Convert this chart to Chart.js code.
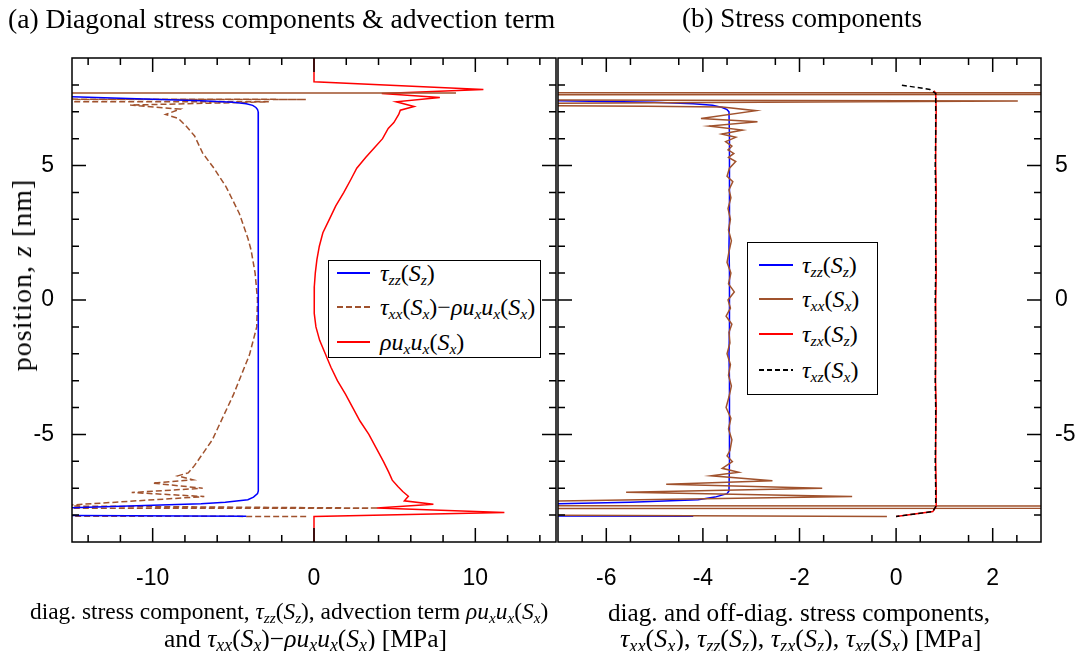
<!DOCTYPE html>
<html>
<head>
<meta charset="utf-8">
<script src="https://cdn.jsdelivr.net/npm/chart.js"></script>
<style>
  body { margin: 0; background: #fff; }
  #wrap { position: relative; width: 1075px; height: 651px; background: #fff; overflow: hidden; }
  canvas { position: absolute; top: 0; }
  .serif { position: absolute; font-family: 'Liberation Serif', 'Times New Roman', serif; color: #000; white-space: nowrap; line-height: 1; }
  .serif sub { font-size: 65%; vertical-align: -0.25em; line-height: 0; }
  .wide sub { font-size: 70%; }
  .box { position: absolute; border: 1.5px solid #000; background: #fff; box-sizing: border-box; }
  .sample { position: absolute; height: 2px; }
</style>
</head>
<body>
<div id="wrap">
  <canvas id="left" width="560" height="651" style="left:0;width:560px;height:651px"></canvas>
  <canvas id="right" width="535" height="651" style="left:540px;width:535px;height:651px"></canvas>

  <div class="serif" style="left:8px;top:5px;font-size:27.6px">(a) Diagonal stress components &amp; advection term</div>
  <div class="serif" style="left:682px;top:5px;font-size:27px">(b) Stress components</div>

  <div class="serif" style="left:22px;top:275px;font-size:28px;letter-spacing:1px;transform:translate(-50%,-50%) rotate(-90deg)">position, <i>z</i> [nm]</div>

  <div class="serif" style="left:30px;top:600px;font-size:23.4px">diag. stress component, <i>τ</i><sub><i>zz</i></sub>(<i>S</i><sub><i>z</i></sub>), advection term <i>ρu</i><sub><i>x</i></sub><i>u</i><sub><i>x</i></sub>(<i>S</i><sub><i>x</i></sub>)</div>
  <div class="serif wide" style="left:164px;top:626px;font-size:25.5px">and <i>τ</i><sub><i>xx</i></sub>(<i>S</i><sub><i>x</i></sub>)−<i>ρu</i><sub><i>x</i></sub><i>u</i><sub><i>x</i></sub>(<i>S</i><sub><i>x</i></sub>) [MPa]</div>
  <div class="serif" style="left:608px;top:600px;font-size:25.2px">diag. and off-diag. stress components,</div>
  <div class="serif wide" style="left:620px;top:626px;font-size:26px"><i>τ</i><sub><i>xx</i></sub>(<i>S</i><sub><i>x</i></sub>), <i>τ</i><sub><i>zz</i></sub>(<i>S</i><sub><i>z</i></sub>), <i>τ</i><sub><i>zx</i></sub>(<i>S</i><sub><i>z</i></sub>), <i>τ</i><sub><i>xz</i></sub>(<i>S</i><sub><i>x</i></sub>) [MPa]</div>

  <div class="box" style="left:328px;top:260px;width:213px;height:98px"></div>
  <div class="sample" style="left:337px;top:272px;width:33px;background:#0000ff"></div>
  <div class="sample" style="left:337px;top:306px;width:33px;background:repeating-linear-gradient(to right,#a0522d 0 6px,transparent 6px 9px)"></div>
  <div class="sample" style="left:337px;top:341px;width:33px;background:#ff0000"></div>
  <div class="serif" style="left:380px;top:261px;font-size:24px"><i>τ</i><sub><i>zz</i></sub>(<i>S</i><sub><i>z</i></sub>)</div>
  <div class="serif" style="left:380px;top:295px;font-size:24px"><i>τ</i><sub><i>xx</i></sub>(<i>S</i><sub><i>x</i></sub>)−<i>ρu</i><sub><i>x</i></sub><i>u</i><sub><i>x</i></sub>(<i>S</i><sub><i>x</i></sub>)</div>
  <div class="serif" style="left:380px;top:330px;font-size:24px"><i>ρu</i><sub><i>x</i></sub><i>u</i><sub><i>x</i></sub>(<i>S</i><sub><i>x</i></sub>)</div>

  <div class="box" style="left:747px;top:242px;width:131px;height:153px"></div>
  <div class="sample" style="left:759px;top:264px;width:34px;background:#0000ff"></div>
  <div class="sample" style="left:759px;top:298px;width:34px;background:#a0522d"></div>
  <div class="sample" style="left:759px;top:333px;width:34px;background:#ff0000"></div>
  <div class="sample" style="left:759px;top:369px;width:34px;background:repeating-linear-gradient(to right,#000 0 5px,transparent 5px 8px)"></div>
  <div class="serif" style="left:802px;top:253px;font-size:24px"><i>τ</i><sub><i>zz</i></sub>(<i>S</i><sub><i>z</i></sub>)</div>
  <div class="serif" style="left:802px;top:287px;font-size:24px"><i>τ</i><sub><i>xx</i></sub>(<i>S</i><sub><i>x</i></sub>)</div>
  <div class="serif" style="left:802px;top:322px;font-size:24px"><i>τ</i><sub><i>zx</i></sub>(<i>S</i><sub><i>z</i></sub>)</div>
  <div class="serif" style="left:802px;top:358px;font-size:24px"><i>τ</i><sub><i>xz</i></sub>(<i>S</i><sub><i>x</i></sub>)</div>
</div>

<script>
// axis ticks
const zMajor = [-5, 0, 5];
const zMinor = [-8, -7, -6, -4, -3, -2, -1, 1, 2, 3, 4, 6, 7, 8];
const xMajorA = [-10, 0, 10];
const xMinorA = [-14, -12, -8, -6, -4, -2, 2, 4, 6, 8, 12, 14];
const xMajorB = [-6, -4, -2, 0, 2];
const xMinorB = [-6.5, -5.5, -4.5, -3.5, -2.5, -1.5, -0.5, 0.5, 1.5, 2.5];

// tau_zz(S_z), shown in both panels
const tzzZ = [7.65, 7.56, 7.41, 7.35, 7.3, 7.24, 7.16, 7.08, 7.0, 6, 5, 4, 3, 2, 1, 0, -1, -2, -3, -4, -5, -6, -7.1, -7.2, -7.33, -7.43, -7.52, -7.58, -7.73, -7.9, -8.04];
const tzzV = [-40, -15, -7, -5, -4.2, -3.8, -3.6, -3.5, -3.46, -3.45, -3.45, -3.45, -3.45, -3.46, -3.45, -3.45, -3.45, -3.46, -3.45, -3.45, -3.45, -3.45, -3.46, -3.5, -3.75, -4.1, -5.5, -7, -15, -60, -4.2];

// rho u_x u_x(S_x)
const ruuZ = [9.2, 8.12, 7.83, 7.68, 7.53, 7.37, 7.2, 7.06, 6.9, 6.6, 6.38, 6.0, 5.7, 5.3, 4.9, 4.5, 4.0, 3.5, 3.0, 2.5, 2.0, 1.5, 1.0, 0.5, 0, -0.5, -1, -1.5, -2, -2.5, -3, -3.5, -4, -4.5, -5, -5.5, -6, -6.4, -6.7, -6.94, -7.12, -7.3, -7.47, -7.6, -7.74, -7.9, -8.05, -9.2];
const ruuV = [0, 0, 10.5, 4.2, 7.8, 5.1, 6.2, 5.35, 5.25, 4.95, 4.6, 4.25, 3.8, 3.2, 2.65, 2.3, 1.85, 1.35, 0.95, 0.55, 0.33, 0.18, 0.08, 0.02, 0, 0.03, 0.12, 0.35, 0.7, 1.05, 1.45, 1.95, 2.4, 2.85, 3.4, 3.85, 4.3, 4.63, 4.85, 5.2, 5.5, 5.85, 5.6, 7.4, 3.9, 11.8, 0, 0];

// tau_xx(S_x) - rho u_x u_x(S_x)
const difZ = [7.72, 7.70, 7.68, 7.46, 7.42, 7.37, 7.25, 7.1, 6.9, 6.75, 6.45, 6.1, 5.46, 4.9, 4.21, 3.22, 2.3, 1.86, 1.0, 0, -1.0, -2.04, -3.53, -4.9, -5.2, -6.15, -6.43, -6.54, -6.69, -6.81, -7.0, -7.16, -7.31, -7.66, -7.74, -7.84, -8.05];
const difV = [-300, 8.8, -300, -0.5, -300, -2.8, -11.4, -8.3, -9.2, -8.4, -7.9, -7.4, -6.9, -6.2, -5.45, -4.63, -4.1, -3.9, -3.65, -3.5, -3.55, -4.0, -5.0, -6.07, -6.3, -7.4, -7.8, -8.45, -7.5, -10, -6.9, -11.3, -6.8, -16, 4.0, -300, -0.3];

// tau_xx(S_x)
const txxZ = [7.72, 7.70, 7.58, 7.46, 7.40, 7.28, 7.21, 7.18, 7.04, 6.75, 6.63, 6.47, 6.32, 6.17, 6.05, 5.89, 5.72, 5.58, 5.45, 5.3, 5.15, 4.9, 4.6, 4.4, 4.1, 3.8, 3.4, 3.0, 2.6, 2.2, 1.8, 1.4, 1.0, 0.6, 0.3, 0.0, -0.3, -0.6, -0.9, -1.2, -1.6, -2.0, -2.4, -2.8, -3.2, -3.6, -4.0, -4.4, -4.8, -5.2, -5.6, -5.8, -6.01, -6.26, -6.41, -6.54, -6.72, -6.85, -7.0, -7.15, -7.31, -7.49, -7.62, -7.70, -7.80, -8.05];
const txxV = [-40, 40, -40, -12, 2.52, -12, -5.17, -3.6, -2.9, -4.04, -2.87, -3.87, -3.18, -3.61, -3.32, -3.53, -3.4, -3.48, -3.36, -3.47, -3.32, -3.45, -3.5, -3.38, -3.46, -3.42, -3.48, -3.43, -3.47, -3.41, -3.46, -3.5, -3.42, -3.47, -3.35, -3.48, -3.43, -3.52, -3.4, -3.46, -3.44, -3.5, -3.43, -3.47, -3.41, -3.46, -3.52, -3.42, -3.47, -3.4, -3.44, -3.5, -3.39, -3.6, -3.26, -3.83, -2.56, -4.76, -1.53, -5.59, -0.91, -7.5, -40, 40, -40, -0.19];

// tau_zx(S_z)
const tzxZ = [7.78, 7.7, 7, 6, 5, 4, 3, 2, 1, 0, -1, -2, -3, -4, -5, -6, -7, -7.68, -7.87, -8.05];
const tzxV = [0.78, 0.82, 0.83, 0.82, 0.82, 0.83, 0.82, 0.82, 0.83, 0.82, 0.82, 0.81, 0.82, 0.83, 0.82, 0.82, 0.83, 0.83, 0.76, 0.0];

// tau_xz(S_x)
const txzZ = [7.99, 7.83, 7.68, 7, 6, 5, 4, 3, 2, 1, 0, -1, -2, -3, -4, -5, -6, -7, -7.68, -7.87, -8.05];
const txzV = [0.12, 0.7, 0.82, 0.82, 0.82, 0.81, 0.82, 0.82, 0.82, 0.82, 0.81, 0.82, 0.82, 0.81, 0.82, 0.82, 0.81, 0.82, 0.82, 0.76, 0.0];

const pts = (zs, vs) => zs.map((z, i) => ({ x: vs[i], y: z }));

// frame and inward ticks on all four sides
const frameTicks = {
  id: 'frameTicks',
  afterDatasetsDraw(chart, args, o) {
    const { ctx, chartArea: a, scales: { x, y } } = chart;
    ctx.save();
    ctx.strokeStyle = '#000';
    ctx.lineWidth = 1.5;
    ctx.beginPath();
    const xt = (vals, len) => vals.forEach(v => {
      const p = x.getPixelForValue(v);
      ctx.moveTo(p, a.bottom); ctx.lineTo(p, a.bottom - len);
      ctx.moveTo(p, a.top); ctx.lineTo(p, a.top + len);
    });
    const yt = (vals, len) => vals.forEach(v => {
      const p = y.getPixelForValue(v);
      ctx.moveTo(a.left, p); ctx.lineTo(a.left + len, p);
      ctx.moveTo(a.right, p); ctx.lineTo(a.right - len, p);
    });
    xt(o.xMajor, 14); xt(o.xMinor, 7);
    yt(zMajor, 14); yt(zMinor, 7);
    ctx.stroke();
    ctx.strokeRect(a.left, a.top, a.right - a.left, a.bottom - a.top);
    ctx.restore();
  }
};

const tickFont = { family: 'Liberation Sans', size: 23 };

function makeChart(id, datasets, xr, xMajor, xMinor, side, pad) {
  return new Chart(document.getElementById(id), {
    type: 'scatter',
    data: { datasets },
    options: {
      responsive: false,
      animation: false,
      devicePixelRatio: 1,
      layout: { padding: pad },
      elements: { point: { radius: 0 }, line: { borderWidth: 1.5 } },
      plugins: {
        legend: { display: false },
        tooltip: { enabled: false },
        frameTicks: { xMajor, xMinor }
      },
      scales: {
        x: {
          type: 'linear', position: 'bottom', min: xr[0], max: xr[1],
          grid: { display: false }, border: { display: false },
          afterBuildTicks: s => { s.ticks = xMajor.map(v => ({ value: v })); },
          afterFit: s => { s.height = 60; },
          ticks: { font: tickFont, color: '#000', padding: 15, maxRotation: 0 }
        },
        y: {
          type: 'linear', position: side, min: -9, max: 9,
          grid: { display: false }, border: { display: false },
          afterBuildTicks: s => { s.ticks = zMajor.map(v => ({ value: v })); },
          afterFit: s => { s.width = side === 'left' ? 72 : 34; },
          ticks: { font: tickFont, color: '#000', padding: side === 'left' ? 10 : 6 }
        }
      }
    },
    plugins: [frameTicks]
  });
}

const line = (data, color, dash) => ({
  data, showLine: true, borderColor: color, borderWidth: 1.5,
  borderDash: dash || [], pointRadius: 0, fill: false
});

makeChart('left', [
  line(pts(tzzZ, tzzV), '#0000ff'),
  line(pts(difZ, difV), '#a0522d', [6, 3]),
  line(pts(ruuZ, ruuV), '#ff0000')
], [-15, 15], xMajorA, xMinorA, 'left', { left: 0, right: 4, top: 58, bottom: 49 });

makeChart('right', [
  line(pts(txzZ, txzV), '#000000', [5, 3]),
  line(pts(tzxZ, tzxV), '#ff0000'),
  line(pts(txxZ, txxV), '#a0522d'),
  line(pts(tzzZ, tzzV), '#0000ff')
], [-7, 3], xMajorB, xMinorB, 'right', { left: 18, right: 0, top: 58, bottom: 49 });
</script>
</body>
</html>
